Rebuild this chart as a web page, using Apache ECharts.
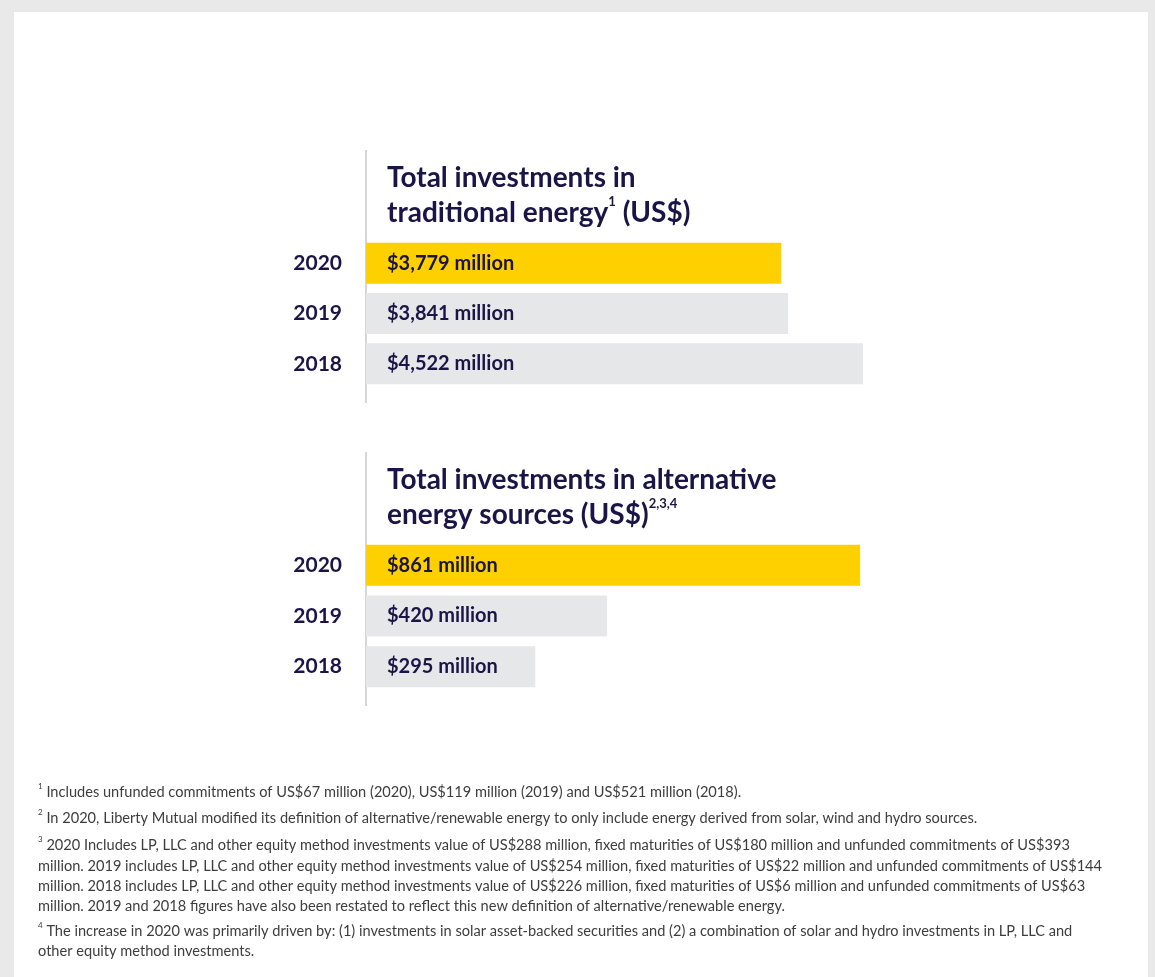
<!DOCTYPE html>
<html>
<head>
<meta charset="utf-8">
<script src="https://cdn.jsdelivr.net/npm/echarts@6/dist/echarts.min.js"></script>
<style>
  html, body { margin: 0; padding: 0; background: #e9e9e9; }
  #panel { position: absolute; left: 14px; top: 12px; width: 1134px; height: 965px; background: #ffffff; }
  #chart { position: absolute; left: 0; top: 0; width: 1155px; height: 977px; }
</style>
</head>
<body>
<div id="panel"></div>
<div id="chart"></div>
<script>
// ---- data ----
const years = ['2020', '2019', '2018'];
const traditionalValues = [3779, 3841, 4522];
const alternativeValues = [861, 420, 295];
const traditionalTitle = ['Total investments in', 'traditional energy', '1', ' (US$)'];
const alternativeTitle = ['Total investments in alternative', 'energy sources (US$)', '2,3,4'];
const footnotes = [
  { mark: '1', lines: ['Includes unfunded commitments of US$67 million (2020), US$119 million (2019) and US$521 million (2018).'] },
  { mark: '2', lines: ['In 2020, Liberty Mutual modified its definition of alternative/renewable energy to only include energy derived from solar, wind and hydro sources.'] },
  { mark: '3', lines: [
    '2020 Includes LP, LLC and other equity method investments value of US$288 million, fixed maturities of US$180 million and unfunded commitments of US$393',
    'million. 2019 includes LP, LLC and other equity method investments value of US$254 million, fixed maturities of US$22 million and unfunded commitments of US$144',
    'million. 2018 includes LP, LLC and other equity method investments value of US$226 million, fixed maturities of US$6 million and unfunded commitments of US$63',
    'million. 2019 and 2018 figures have also been restated to reflect this new definition of alternative/renewable energy.'
  ] },
  { mark: '4', lines: [
    'The increase in 2020 was primarily driven by: (1) investments in solar asset-backed securities and (2) a combination of solar and hydro investments in LP, LLC and',
    'other equity method investments.'
  ] }
];

// ---- styles ----
const NAVY = '#1b1447';
const YELLOW = '#ffd000';
const GRAY = '#e6e7e8';
const FONT = 'Lato';

const chart = echarts.init(document.getElementById('chart'), null, { renderer: 'canvas' });

function barColor(p) { return p.dataIndex === 0 ? YELLOW : GRAY; }
function fmt(p) { return '$' + p.value.toLocaleString('en-US') + ' million'; }

const titleRich = {
  t: { fontFamily: FONT, fontWeight: 'bold', fontSize: 28, color: NAVY, lineHeight: 35 },
  sup: { fontFamily: FONT, fontWeight: 'bold', fontSize: 13, color: NAVY, lineHeight: 35, verticalAlign: 'top', padding: [0, 0, 12, 0] }
};

const grids = [
  { left: 366, top: 238, width: 497, height: 151 },
  { left: 366, top: 540, width: 494, height: 152 }
];

function yAxisCfg(i) {
  return {
    type: 'category', gridIndex: i, data: years, inverse: true,
    axisLine: { show: false }, axisTick: { show: false }, splitLine: { show: false },
    axisLabel: { fontFamily: FONT, fontWeight: 'bold', fontSize: 21, color: NAVY, margin: 24 }
  };
}
function xAxisCfg(i) {
  return { type: 'value', gridIndex: i, min: 0, max: 'dataMax', show: false };
}
function seriesCfg(i, data) {
  return {
    type: 'bar', xAxisIndex: i, yAxisIndex: i, data: data, barWidth: 41,
    itemStyle: { color: barColor }, silent: true, animation: false,
    label: { show: true, position: 'insideLeft', distance: 21, formatter: fmt,
      fontFamily: FONT, fontWeight: 'bold', fontSize: 20, color: NAVY }
  };
}

// footnote graphics
const footY = [792, 818, 845, 866, 886, 906, 931, 951];
const footGraphics = [];
let li = 0;
footnotes.forEach(fn => {
  fn.lines.forEach((line, j) => {
    const txt = j === 0 ? '{s|' + fn.mark + '} ' + line : line;
    footGraphics.push({
      type: 'text', left: 38, top: footY[li] - 10,
      style: {
        text: txt, fill: '#3d3d3d', font: '14.6px ' + FONT,
        rich: {
          s: { fontFamily: FONT, fontSize: 8, fill: '#3d3d3d', verticalAlign: 'top', lineHeight: 20, padding: [0, 0, 8, 0] }
        },
        lineHeight: 20
      }
    });
    li++;
  });
});

const option = {
  animation: false,
  backgroundColor: 'transparent',
  title: [
    { text: '{t|' + traditionalTitle[0] + '}\n{t|' + traditionalTitle[1] + '}{sup|' + traditionalTitle[2] + '}{t|' + traditionalTitle[3] + '}',
      left: 387, top: 160, padding: 0, textStyle: { rich: titleRich } },
    { text: '{t|' + alternativeTitle[0] + '}\n{t|' + alternativeTitle[1] + '}{sup|' + alternativeTitle[2] + '}',
      left: 387, top: 462, padding: 0, textStyle: { rich: titleRich } }
  ],
  grid: grids,
  xAxis: [xAxisCfg(0), xAxisCfg(1)],
  yAxis: [yAxisCfg(0), yAxisCfg(1)],
  series: [seriesCfg(0, traditionalValues), seriesCfg(1, alternativeValues)],
  graphic: [
    { type: 'line', shape: { x1: 366, y1: 150, x2: 366, y2: 403 }, style: { stroke: '#c9c9c9', lineWidth: 1.5 } },
    { type: 'line', shape: { x1: 366, y1: 452, x2: 366, y2: 706 }, style: { stroke: '#c9c9c9', lineWidth: 1.5 } }
  ].concat(footGraphics)
};
chart.setOption(option);
</script>
</body>
</html>
